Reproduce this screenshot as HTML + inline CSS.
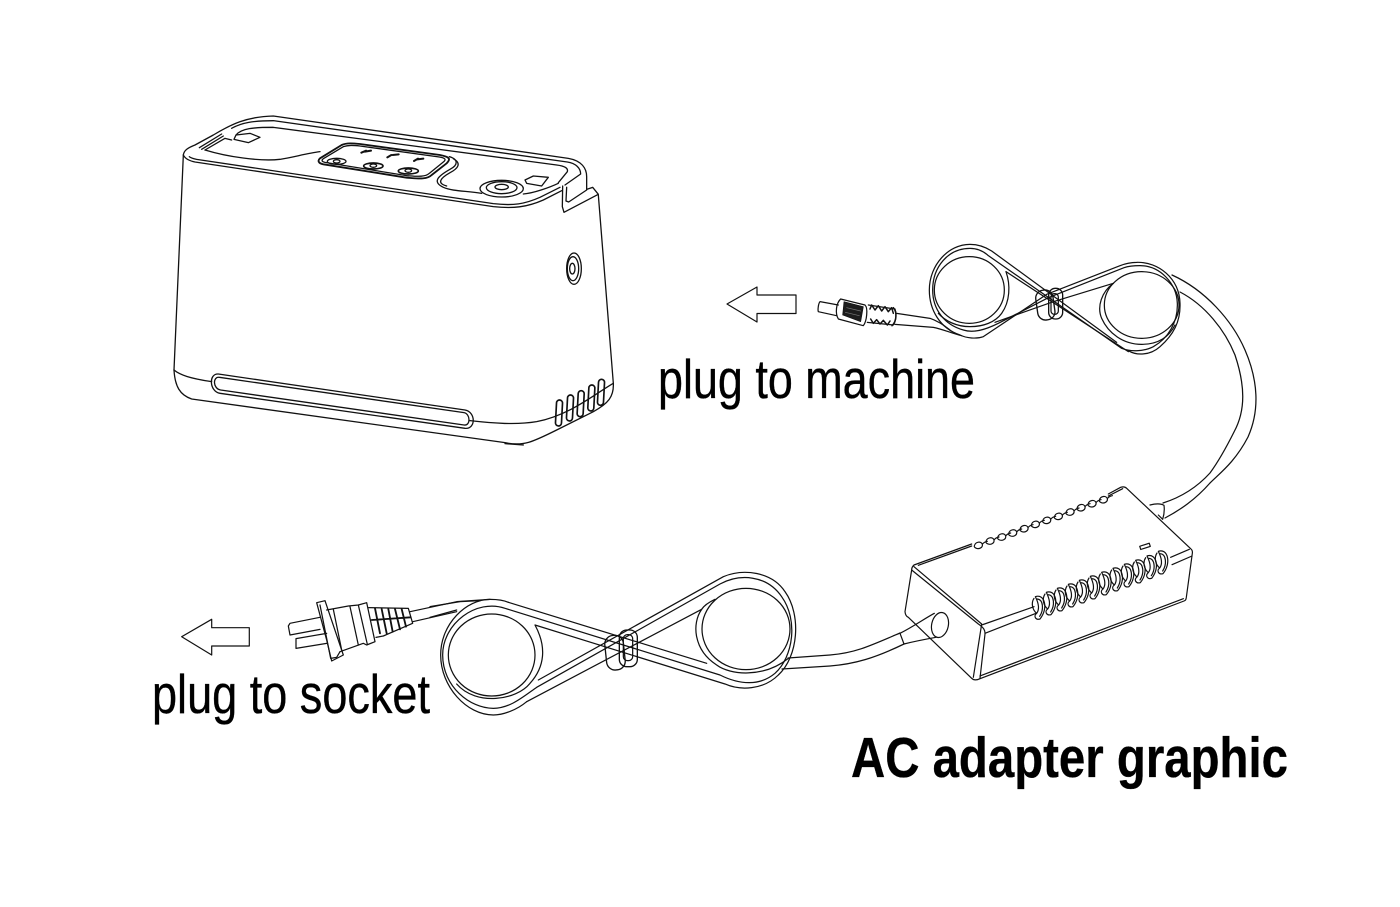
<!DOCTYPE html>
<html><head><meta charset="utf-8"><style>
html,body{margin:0;padding:0;background:#fff}
svg{display:block}
.l{fill:none;stroke:#111;stroke-linejoin:round;stroke-linecap:round}
text{font-family:"Liberation Sans",Arial,sans-serif;fill:#000;stroke:#000;stroke-width:.35}
</style></head><body>
<svg width="1400" height="907" viewBox="0 0 1400 907" xmlns="http://www.w3.org/2000/svg">
<defs>
<path id="cr" d="M0,-15 C28,-25 40,20 14,52 C0,56 -6,42 4,35 C14,22 10,5 0,-15Z M-4,-10 C-14,5 -8,25 4,35 M6,-8 C24,-6 26,24 13,44"/>
<path id="lp" d="M-12,3 C-9,-11 9,-12 12,-2 C14,8 2,13 -6,10 C-11,8 -13,5 -12,3 M12,-2 C17,-9 22,-10 27,-11"/>
</defs>

<!-- machine -->
<g class="l" transform="translate(160,100) scale(.33333)" stroke-width="3.9">
<path d="M70,165 L42,810"/>
<path d="M42,810 C60,825 90,835 155,845"/>
<path d="M930,962 C1000,970 1070,975 1130,965 C1230,945 1300,885 1360,850"/>
<path d="M42,810 C45,860 60,885 95,897 L1035,1028 C1090,1040 1120,1025 1190,990 L1300,935 C1345,910 1362,890 1360,850"/>
<path d="M1035,1031 L1090,1035"/>
<path d="M1315,285 L1360,850"/>
<path d="M70,165 C75,175 85,182 105,186 L1000,320 C1060,326 1100,322 1150,300 L1205,272"/>
<path d="M88,170 C92,174 100,176 110,178 L1000,311 C1060,318 1095,312 1140,292 L1200,262"/>
<path d="M70,165 C72,150 85,143 105,135 L160,105 C215,72 260,50 340,48 L1225,175 C1265,182 1280,205 1280,230 L1280,268"/>
<path d="M215,85 C245,68 280,62 340,62 L1222,186 C1248,190 1262,205 1262,222 L1215,255"/>
<path d="M135,150 L195,115 L215,120"/>
<path d="M135,150 C200,170 300,185 360,178 C400,172 440,160 480,155"/>
<path d="M228,105 C245,85 280,82 340,82 L1190,195 C1215,198 1225,205 1222,215 L1195,248"/>
<path d="M125,148 L190,108 M118,143 L185,102"/>
<path d="M228,105 L222,118 L265,128 L300,112 L270,100 Z"/>
<path d="M1095,240 L1120,228 L1165,232 L1145,258 L1100,250Z"/>
<path d="M480,175 L545,135 C560,128 580,130 600,132 L840,165 C865,170 875,175 860,190 L815,225 C800,240 770,235 740,233 L490,193 C475,190 472,182 480,175Z" stroke-width="5.5"/>
<path d="M490,176 L550,140 C565,135 580,136 600,138 L838,171 C855,174 860,178 850,186 L808,220 C795,232 770,229 740,227 L495,187 C485,185 484,181 490,176Z"/>
<path d="M868,170 C895,178 895,195 870,208 C835,228 815,245 850,262 C880,275 920,272 965,280"/>
<path d="M880,176 C905,190 895,205 870,218 C840,235 830,250 860,258"/>
<path d="M1090,282 C1120,280 1170,262 1195,250"/>
<ellipse cx="1025" cy="266" rx="65" ry="25"/>
<ellipse cx="1025" cy="263" rx="46" ry="18"/>
<ellipse cx="1025" cy="261" rx="20" ry="8" stroke-width="4"/>
<ellipse cx="530" cy="184" rx="28" ry="9"/><ellipse cx="530" cy="184" rx="10" ry="5"/>
<ellipse cx="640" cy="198" rx="29" ry="9" stroke-width="5"/><ellipse cx="640" cy="197" rx="10" ry="5"/>
<ellipse cx="745" cy="213" rx="30" ry="9" stroke-width="5"/><ellipse cx="745" cy="212" rx="10" ry="5"/>
<path d="M604,158 L618,152 M615,155 L633,152 M682,172 L694,165 M698,165 L716,163 M762,183 L774,176 M772,178 L790,176" stroke-width="6"/>
<path d="M1208,258 L1207,320 L1212,337 L1315,283 L1298,262 L1280,268"/>
<path d="M1220,262 L1218,303 L1226,306 L1280,270"/>
<ellipse cx="1242" cy="506" rx="22" ry="47"/>
<ellipse cx="1239" cy="506" rx="17" ry="36"/>
<ellipse cx="1237" cy="506" rx="8" ry="16" stroke-width="4"/>
<path d="M175,822 L915,930 C948,936 948,988 915,985 L180,880 C148,875 145,820 175,822Z"/>
<path d="M178,832 L912,938 C932,942 932,978 912,975 L182,870 C158,866 158,829 178,832Z"/>
<g stroke-width="5">
<rect x="1188" y="900" width="18" height="78" rx="9" transform="rotate(3 1197 939)"/>
<rect x="1221" y="885" width="18" height="78" rx="9" transform="rotate(3 1230 924)"/>
<rect x="1253" y="872" width="18" height="78" rx="9" transform="rotate(3 1262 911)"/>
<rect x="1285" y="855" width="18" height="78" rx="9" transform="rotate(3 1294 894)"/>
<rect x="1314" y="838" width="18" height="78" rx="9" transform="rotate(3 1323 877)"/>
</g>
</g>

<!-- arrows -->
<polygon class="l" stroke-width="1.2" points="727,304 757,287 757,295 796,295 796,313.5 757,313.5 757,322"/>
<polygon class="l" stroke-width="1.2" points="181.7,636.7 211.7,619.3 211.7,627.7 249.3,627.7 249.3,646 211.7,646 211.7,655"/>

<!-- upper coil -->
<g class="l" transform="translate(920,235) scale(.33333)" stroke-width="3.7">
<ellipse cx="148" cy="165" rx="105" ry="100"/>
<ellipse cx="665" cy="210" rx="112" ry="100"/>
<path d="M625,347 C650,362 690,362 720,335 C760,300 782,260 780,205 C778,130 715,80 650,82 C630,82 615,86 600,92 L380,178 L190,305 C170,312 140,310 120,300 C60,280 28,225 28,165 C28,90 85,28 150,28 C175,28 195,35 215,48 L590,322"/>
<path d="M605,340 L205,62 C190,48 170,40 150,40 C85,40 38,95 38,165 C38,225 75,270 130,285 C160,295 195,285 235,265 L385,188 L612,98 C630,92 645,92 660,92 C720,92 770,145 772,205 C774,260 745,310 700,335 C675,348 635,352 605,340Z"/>
<path d="M258,110 L625,350"/>
<path d="M580,145 L400,200 L225,262"/>
<path d="M258,110 C272,150 270,200 245,235 C225,262 190,275 150,275 C110,275 75,258 55,235"/>
<path d="M580,145 C545,170 530,215 545,250 C565,295 610,328 665,328 C710,328 745,310 765,270"/>
<rect x="350" y="165" width="52" height="90" rx="24" transform="rotate(-8 376 210)" stroke-width="4"/>
<rect x="386" y="160" width="42" height="92" rx="20" stroke-width="4"/>
<rect x="393" y="176" width="22" height="62" rx="10"/>
</g>

<!-- DC plug and cables -->
<g class="l" transform="translate(650,285) scale(.33333)" stroke-width="3.7">
<path d="M565,60 L510,50 C505,55 503,75 505,80 L560,92"/>
<path d="M572,42 L645,60 C655,70 650,110 640,122 L565,102 C555,85 558,55 572,42Z"/>
<path d="M582,50 L640,65 L632,110 L578,90Z" fill="#1c1c1c" stroke-width="2"/>
<path d="M590,68 L632,78 M586,82 L628,92" stroke="#777" stroke-width="2"/>
<path d="M655,60 L735,72 C740,85 738,110 730,120 L652,112"/>
<path d="M660,72 L665,60 L675,75 L685,62 L695,78 L705,65 L715,80 L725,68 L730,85" stroke-width="4.5"/>
<path d="M662,102 L670,115 L680,104 L690,117 L700,106 L712,120 L720,108" stroke-width="4.5"/>
<path d="M730,68 C742,82 740,108 726,122" stroke-width="4.5"/>
<path d="M740,85 L840,100 C855,105 875,115 900,135"/>
<path d="M735,118 L850,127 C880,133 905,145 935,152"/>
</g>

<!-- long cable -->
<g class="l" stroke-width="1.25">
<path d="M1172,275 C1205,290 1232,320 1245,350 C1258,380 1260,410 1248,437 C1235,462 1220,473 1210,483 C1195,500 1180,510 1165,518"/>
<path d="M1180,292 C1205,305 1225,330 1235,355 C1245,385 1246,410 1234,432 C1225,450 1218,462 1210,473 C1200,484 1185,496 1163,503"/>
</g>

<!-- adapter -->
<g class="l" transform="translate(890,470) scale(.33333)" stroke-width="3.6">
<path d="M245,222 L72,285 C66,290 65,295 65,300 L45,425 C46,435 50,440 55,442 L245,625 C252,632 262,630 270,626 L882,393 C888,390 888,388 889,382 L907,250 C908,244 907,240 902,236 L710,55 C705,50 698,50 692,52 L655,72"/>
<path d="M245,228 L85,286 M655,78 L698,56"/>
<path d="M270,618 L880,386"/>
<path d="M65,300 L265,462 C280,472 286,480 285,492 L270,625"/>
<path d="M72,290 L275,462 L250,622"/>
<path d="M275,465 L432,410 M285,490 L438,430"/>
<path d="M842,262 L898,238 M846,284 L906,258"/>
<rect x="750" y="224" width="30" height="10" transform="rotate(-18 765 229)"/>
<use href="#lp" x="265" y="225"/><use href="#lp" x="300" y="212"/><use href="#lp" x="335" y="200"/><use href="#lp" x="368" y="188"/><use href="#lp" x="402" y="175"/><use href="#lp" x="436" y="162"/><use href="#lp" x="470" y="150"/><use href="#lp" x="505" y="138"/><use href="#lp" x="540" y="125"/><use href="#lp" x="573" y="112"/><use href="#lp" x="606" y="100"/><use href="#lp" x="640" y="88"/>
<use href="#cr" x="436" y="395"/><use href="#cr" x="469" y="382"/><use href="#cr" x="502" y="370"/><use href="#cr" x="535" y="358"/><use href="#cr" x="568" y="346"/><use href="#cr" x="601" y="334"/><use href="#cr" x="635" y="322"/><use href="#cr" x="669" y="310"/><use href="#cr" x="703" y="298"/><use href="#cr" x="737" y="286"/><use href="#cr" x="771" y="273"/><use href="#cr" x="805" y="259"/>
<ellipse cx="150" cy="465" rx="25" ry="38" transform="rotate(12 150 465)"/>
<path d="M133,430 C100,448 70,470 30,490 L42,522 C70,515 105,508 138,502"/>
<path d="M780,105 C800,100 812,100 822,106 C824,120 822,135 818,148 L805,135"/>
</g>

<!-- cable adapter to lower coil -->
<g class="l" stroke-width="1.25">
<path d="M788,658 L830,655 C855,653 870,646 900,633"/>
<path d="M782,669 L830,666 C855,664 875,658 904,644"/>
</g>

<!-- lower coil -->
<g class="l" transform="translate(430,560) scale(.33333)" stroke-width="3.7">
<ellipse cx="185" cy="285" rx="130" ry="123"/>
<ellipse cx="948" cy="207" rx="132" ry="122"/>
<path d="M325,360 L880,50 C940,25 1025,35 1065,95 C1115,165 1105,290 1045,345 C1000,390 930,392 885,372 L315,195 C350,260 345,320 300,370 C260,420 140,440 80,372"/>
<path d="M320,382 L870,72 C930,40 1010,45 1055,110 C1105,180 1090,290 1035,340 C990,378 930,375 870,345 L225,145 C140,115 38,190 38,285 C38,380 120,445 190,445 C240,445 280,410 320,382Z"/>
<path d="M290,425 L815,148 C785,190 790,270 860,315 C900,345 1000,355 1075,295"/>
<path d="M235,127 L830,310"/>
<path d="M290,425 C260,450 220,465 190,465 C110,465 32,380 32,285 C32,190 110,118 180,118 C200,118 220,120 235,127"/>
<path d="M855,118 C830,130 820,140 815,148"/>
<path d="M0,140 L90,125 L150,122 M0,172 L80,150"/>
<rect x="527" y="226" width="56" height="104" rx="26" transform="rotate(-6 555 278)" stroke-width="4"/>
<rect x="568" y="210" width="54" height="110" rx="22" stroke-width="4"/>
<rect x="580" y="224" width="28" height="78" rx="12"/>
</g>

<!-- AC plug -->
<g class="l" transform="translate(170,560) scale(.33333)" stroke-width="3.7">
<path d="M450,172 L360,190 L355,198 L360,225 L450,208"/>
<path d="M470,220 L378,236 L378,265 L470,250"/>
<path d="M440,128 L465,122 L520,285 L485,303 L470,240Z"/>
<path d="M450,135 L482,295 L500,292 L510,275"/>
<path d="M470,150 L535,138 L565,135 L590,128 L615,245 L590,255 L580,250 L510,275"/>
<path d="M490,148 L515,270 M540,140 L565,255 M565,135 L592,253"/>
<path d="M596,143 L715,145 L728,190 L640,228 L618,232"/>
<path d="M615,145 L630,220 M635,147 L650,220 M655,147 L668,215 M675,147 L690,208 M695,147 L708,200 M605,180 L722,172" stroke-width="5.5"/>
<path d="M720,155 L860,125 L960,118 M728,185 L860,155"/>
</g>

<text x="658" y="398" font-size="55" textLength="317" lengthAdjust="spacingAndGlyphs">plug to machine</text>
<text x="152" y="713" font-size="55" textLength="278" lengthAdjust="spacingAndGlyphs">plug to socket</text>
<text x="851" y="777" font-size="57" font-weight="bold" textLength="437" lengthAdjust="spacingAndGlyphs">AC adapter graphic</text>
</svg>
</body></html>
